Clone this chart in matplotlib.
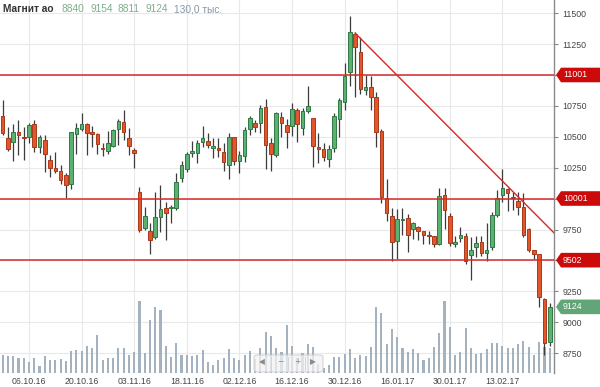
import matplotlib
matplotlib.use("Agg")
import matplotlib.pyplot as plt
from matplotlib.patches import Polygon, FancyBboxPatch
from matplotlib.transforms import blended_transform_factory
import numpy as np

plt.rcParams['font.family'] = ['Liberation Sans', 'DejaVu Sans']

# daily candles, 29.09.16 .. 27.02.17
opens = [10669, 10488, 10461, 10542, 10495, 10501, 10602, 10421, 10475, 10313,
         10250, 10226, 10189, 10118, 10523, 10566, 10604, 10531, 10523, 10412,
         10388, 10428, 10561, 10618, 10488, 10394, 10056, 9765, 9738, 9692,
         9854, 9922, 9925, 9922, 10164, 10240, 10367, 10367, 10456, 10466,
         10410, 10410, 10380, 10272, 10497, 10307, 10345, 10561, 10610, 10610,
         10739, 10448, 10353, 10658, 10596, 10590, 10717, 10574, 10712, 10650,
         10410, 10399, 10318, 10407, 10642, 10785, 11027, 11333, 11184, 10879,
         10901, 10825, 10547, 10003, 9859, 9659, 9830, 9841, 9752, 9773,
         9738, 9700, 9697, 9633, 10029, 9859, 9633, 9679, 9697, 9544,
         9611, 9652, 9557, 9606, 9867, 10030, 10075, 10005, 9984, 9935,
         9752, 9584, 9552, 9185, 8840]
highs = [10798, 10577, 10602, 10637, 10582, 10610, 10637, 10515, 10515, 10353,
         10380, 10272, 10205, 10542, 10610, 10691, 10615, 10590, 10534, 10453,
         10550, 10561, 10642, 10717, 10569, 10407, 10097, 9935, 9800, 10056,
         10110, 9975, 9948, 10205, 10307, 10380, 10469, 10475, 10588, 10534,
         10488, 10488, 10453, 10529, 10497, 10388, 10582, 10669, 10637, 10758,
         10806, 10488, 10704, 10704, 10642, 10776, 10731, 10731, 10912, 10650,
         10529, 10453, 10434, 10696, 10812, 11095, 11478, 11351, 11306, 11001,
         10993, 10863, 10564, 10157, 9922, 9914, 9922, 9876, 9814, 9779,
         9738, 9741, 9697, 10084, 10084, 9881, 9698, 9773, 9724, 9692,
         9697, 9697, 9800, 9894, 10070, 10237, 10084, 10057, 10057, 10043,
         9760, 9584, 9552, 9193, 9154]
lows = [10515, 10386, 10305, 10353, 10313, 10448, 10380, 10367, 10218, 10173,
        10205, 10122, 10003, 10075, 10361, 10550, 10353, 10416, 10361, 10347,
        10361, 10416, 10434, 10475, 10353, 10245, 9732, 9746, 9552, 9671,
        9732, 9665, 9805, 9908, 10137, 10218, 10339, 10286, 10420, 10407,
        10326, 10339, 10226, 10156, 10272, 10210, 10299, 10515, 10542, 10534,
        10240, 10226, 10339, 10501, 10407, 10507, 10461, 10515, 10691, 10258,
        10286, 10307, 10258, 10380, 10501, 10717, 10912, 10825, 10847, 10839,
        10717, 10420, 9962, 9822, 9498, 9509, 9706, 9570, 9671, 9665,
        9633, 9633, 9606, 9625, 9752, 9617, 9611, 9651, 9471, 9341,
        9525, 9536, 9498, 9584, 9854, 9975, 9902, 9908, 9867, 9692,
        9571, 9509, 9120, 8734, 8811]
closes = [10531, 10399, 10542, 10515, 10490, 10596, 10416, 10497, 10361, 10250,
          10226, 10151, 10110, 10537, 10574, 10604, 10534, 10527, 10440, 10399,
          10448, 10555, 10631, 10542, 10428, 10367, 9746, 9859, 9665, 9849,
          9916, 9881, 9930, 10137, 10272, 10359, 10386, 10453, 10488, 10434,
          10426, 10391, 10299, 10497, 10307, 10351, 10555, 10650, 10582, 10731,
          10434, 10361, 10696, 10610, 10542, 10723, 10604, 10712, 10750, 10426,
          10405, 10334, 10399, 10669, 10798, 10995, 11351, 11225, 10885, 10901,
          10825, 10542, 10013, 9881, 9651, 9833, 9836, 9706, 9800, 9740,
          9706, 9697, 9633, 10021, 9908, 9638, 9652, 9703, 9498, 9584,
          9643, 9563, 9584, 9867, 10003, 10084, 10043, 10003, 9935, 9706,
          9584, 9552, 9201, 8834, 9124]
# volume, thousands of shares
volumes = [94, 89, 89, 77, 77, 55, 77, 36, 87, 68, 66, 73, 61, 117, 121, 114, 142, 133,
           201, 68, 80, 80, 133, 130, 96, 110, 384, 105, 281, 349, 334, 142, 84, 157,
           94, 94, 89, 96,
           121, 55, 39, 68, 80, 125, 80, 68, 94, 114, 75, 130, 217, 196, 130, 112,
           254, 142, 77, 103, 151, 135, 46, 27, 39, 84, 82, 101, 125, 77, 94, 89,
           139, 352, 320, 151, 233, 192,
           130, 112, 125, 103, 68, 80, 135, 210, 382, 245, 94, 109, 240, 130, 100,
           103, 125, 157, 158, 142, 130, 130, 153, 167, 135, 93, 164, 139, 130]

date_idx = [5, 15, 25, 35, 45, 55, 65, 75, 85, 95]
date_labels = ['06.10.16', '20.10.16', '03.11.16', '18.11.16', '02.12.16',
               '16.12.16', '30.12.16', '16.01.17', '30.01.17', '13.02.17']
price_ticks = [8750, 9000, 9250, 9500, 9750, 10000, 10250, 10500, 10750,
               11000, 11250, 11500]
levels = [11001, 10001, 9502]
trend_idx = [67, 104.9]
trend_price = [11340, 9719]
last_price = 9124

GREEN, GREEN_EDGE = '#5bb072', '#2f7a44'
RED, RED_EDGE = '#e2562c', '#a9391b'
LINE_RED = '#d42a2a'

fig = plt.figure(figsize=(6, 3.87), dpi=100)
pos = [0, 14.3 / 387, 554 / 600, 372.7 / 387]
ax = fig.add_axes(pos)
x = np.arange(len(opens))

# volume on a twin axis (created first so tick_right sticks afterwards)
axv = ax.twinx()
axv.set_ylim(0, 1987)
axv.bar(x, volumes, width=0.4, color='#a4b2bf', zorder=1)
axv.set_yticks([])
for s in axv.spines.values():
    s.set_visible(False)

ax.set_xlim(-0.513, 104.81)
ax.set_ylim(8591, 11608)
ax.yaxis.tick_right()
ax.yaxis.set_label_position('right')
ax.set_yticks(price_ticks)
ax.set_xticks(date_idx)
ax.set_xticklabels(date_labels)
ax.tick_params(axis='y', length=3, width=0.8, color='#888888', labelsize=6.3,
               labelcolor='#444444', pad=3)
ax.tick_params(axis='x', length=0, labelsize=6.3, labelcolor='#444444', pad=3)
ax.grid(True, color='#e9e9e9', linewidth=0.8)
ax.set_axisbelow(True)
for s in ['top', 'left', 'bottom']:
    ax.spines[s].set_visible(False)
ax.spines['right'].set_color('#8a8a8a')
ax.spines['right'].set_linewidth(1.0)

# candles on a transparent overlay sharing price scale
axc = fig.add_axes(pos, sharex=ax, sharey=ax)
axc.patch.set_visible(False)
axc.axis('off')

o = np.array(opens); c = np.array(closes)
up = c >= o
axc.vlines(x, lows, highs, color='#3c3c3c', linewidth=0.9, zorder=2)
bottoms = np.minimum(o, c)
heights = np.maximum(np.abs(c - o), 9)
axc.bar(x[up], heights[up], bottom=bottoms[up], width=0.68,
        color=GREEN, edgecolor=GREEN_EDGE, linewidth=0.7, zorder=3)
axc.bar(x[~up], heights[~up], bottom=bottoms[~up], width=0.68,
        color=RED, edgecolor=RED_EDGE, linewidth=0.7, zorder=3)

for lv in levels:
    axc.axhline(lv, color=LINE_RED, linewidth=1.1, zorder=4)
axc.plot(trend_idx, trend_price, color=LINE_RED, linewidth=1.0, zorder=4,
         clip_on=True)

# price flags on the right axis
tr = blended_transform_factory(ax.transAxes, ax.transData)
px = 1 / 554
half = 7.3 * (11608 - 8591) / 372.7


def flag(price, label, color):
    pts = [(1 + 2 * px, price), (1 + 7 * px, price + half),
           (1 + 50 * px, price + half), (1 + 50 * px, price - half),
           (1 + 7 * px, price - half)]
    ax.add_patch(Polygon(pts, closed=True, transform=tr, facecolor=color,
                         edgecolor='none', clip_on=False, zorder=10))
    ax.text(1 + 9 * px, price, label, transform=tr, color='white',
            fontsize=6.3, va='center', ha='left', zorder=11, clip_on=False)


for lv in levels:
    flag(lv, str(lv), '#cc0a0a')
flag(last_price, str(last_price), '#62a577')

# header
fig.text(3 / 600, 1 - 9 / 387, 'Магнит ао', fontsize=7.3, fontweight='bold',
         color='#333333', va='center', ha='left')
hdr = [str(opens[-1]), str(highs[-1]), str(lows[-1]), str(closes[-1])]
for xp, t in zip([61, 90.5, 118, 145.5], hdr):
    fig.text(xp / 600, 1 - 9 / 387, t, fontsize=7.3, color='#7fae8e',
             va='center', ha='left')
fig.text(174 / 600, 1 - 9 / 387, '130,0 тыс.', fontsize=7.3, color='#8797a6',
         va='center', ha='left')

# navigator widget
nav = FancyBboxPatch((254 / 600, 15 / 387), 69 / 600, 17 / 387,
                     boxstyle='round,pad=0,rounding_size=0.006',
                     transform=fig.transFigure, facecolor='#f2f2f2',
                     edgecolor='#c8c8c8', linewidth=0.8, alpha=0.75, zorder=20)
fig.patches.append(nav)
for xp, sym in zip([262, 280, 297, 313], ['◀', '−', '+', '▶']):
    fig.text(xp / 600, 1 - 362 / 387, sym, fontsize=5.5, color='#8a8a8a',
             ha='center', va='center', family='DejaVu Sans', zorder=21)
for xp in [271, 288, 305]:
    fig.add_artist(plt.Line2D([xp / 600, xp / 600], [17 / 387, 30 / 387],
                              color='#d6d6d6', linewidth=0.7,
                              transform=fig.transFigure, zorder=21))

fig.savefig('out.png', dpi=100)
